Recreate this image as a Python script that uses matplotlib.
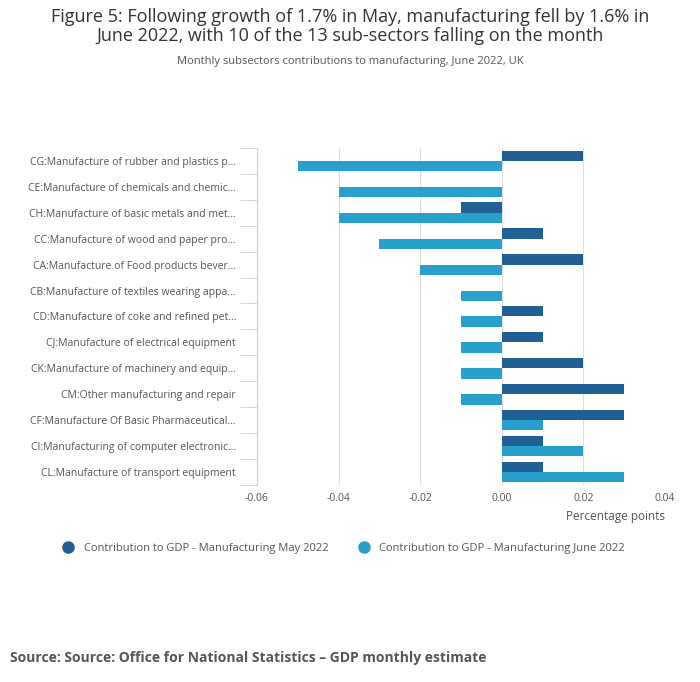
import numpy as np
import matplotlib
matplotlib.use('Agg')
import matplotlib.pyplot as plt
from matplotlib.lines import Line2D

plt.rcParams['font.family'] = ['Open Sans', 'DejaVu Sans']

categories = [
    'CG:Manufacture of rubber and plastics p...',
    'CE:Manufacture of chemicals and chemic...',
    'CH:Manufacture of basic metals and met...',
    'CC:Manufacture of wood and paper pro...',
    'CA:Manufacture of Food products bever...',
    'CB:Manufacture of textiles wearing appa...',
    'CD:Manufacture of coke and refined pet...',
    'CJ:Manufacture of electrical equipment',
    'CK:Manufacture of machinery and equip...',
    'CM:Other manufacturing and repair',
    'CF:Manufacture Of Basic Pharmaceutical...',
    'CI:Manufacturing of computer electronic...',
    'CL:Manufacture of transport equipment',
]
may = [0.02, 0.0, -0.01, 0.01, 0.02, 0.0, 0.01, 0.01, 0.02, 0.03, 0.03, 0.01, 0.01]
june = [-0.05, -0.04, -0.04, -0.03, -0.02, -0.01, -0.01, -0.01, -0.01, -0.01, 0.01, 0.02, 0.03]
xticks = [-0.06, -0.04, -0.02, 0.0, 0.02, 0.04]

dark = '#206095'
light = '#27a0cc'
grey = '#555555'

fig = plt.figure(figsize=(7, 6.82), dpi=100)
ax = fig.add_axes([0.367, 0.289, 0.583, 0.494])

y = np.arange(len(categories))
h = 0.4
ax.barh(y - h / 2, may, h, color=dark, zorder=3)
ax.barh(y + h / 2, june, h, color=light, zorder=3)

ax.set_ylim(len(categories) - 0.5, -0.5)
ax.set_xlim(-0.06, 0.04)
ax.set_xticks(xticks)
ax.set_xticklabels(['-0.06', '-0.04', '-0.02', '0.00', '0.02', '0.04'], color=grey, fontsize=7.5)
ax.set_yticks(y)
ax.set_yticklabels(categories, color=grey, fontsize=7.5)
ax.set_yticks(np.arange(len(categories) + 1) - 0.5, minor=True)
ax.tick_params(axis='y', which='major', length=0, pad=15)
ax.tick_params(axis='y', which='minor', length=12, color='#ccccdd', direction='out')
ax.tick_params(axis='x', length=0, pad=6)
ax.grid(axis='x', color='#e0e0e0', lw=0.8, zorder=0)
for s in ['top', 'right', 'bottom']:
    ax.spines[s].set_visible(False)
ax.spines['left'].set_color('#ccccdd')
ax.set_xlabel('Percentage points', color=grey, fontsize=8.5, loc='right')

fig.text(0.5, 0.988, 'Figure 5: Following growth of 1.7% in May, manufacturing fell by 1.6% in\nJune 2022, with 10 of the 13 sub-sectors falling on the month',
         ha='center', va='top', fontsize=13, color='#333333', linespacing=1.05)
fig.text(0.5, 0.918, 'Monthly subsectors contributions to manufacturing, June 2022, UK',
         ha='center', va='top', fontsize=8, color=grey)

handles = [Line2D([], [], marker='o', ls='', color=dark, markersize=8),
           Line2D([], [], marker='o', ls='', color=light, markersize=8)]
leg = fig.legend(handles, ['Contribution to GDP - Manufacturing May 2022',
                           'Contribution to GDP - Manufacturing June 2022'],
                 loc='center', bbox_to_anchor=(0.487, 0.196), ncol=2, frameon=False,
                 fontsize=8, handletextpad=0.4, columnspacing=2.2)
for t in leg.get_texts():
    t.set_color(grey)

fig.text(0.014, 0.03, 'Source: Source: Office for National Statistics \u2013 GDP monthly estimate',
         fontsize=10, fontweight='bold', color=grey)

fig.savefig('out.png', dpi=100)
